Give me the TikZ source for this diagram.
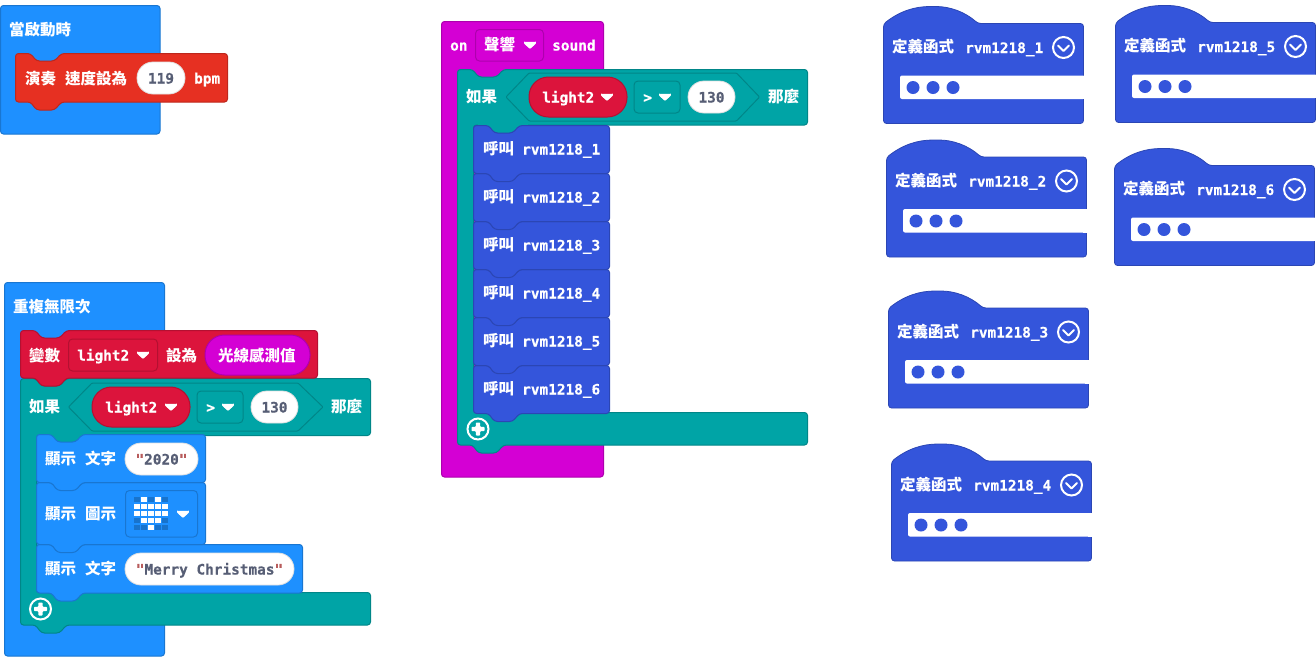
\documentclass[tikz,border=0pt]{standalone}
\usepackage{fontspec}
\usetikzlibrary{shapes.misc}
\newfontfamily\cjkf{Noto Sans CJK TC}
\newfontfamily\monof[FakeBold=0.4]{DejaVu Sans Mono}
\definecolor{cblue}{HTML}{1E90FF}
\definecolor{cred}{HTML}{E63022}
\definecolor{ccrim}{HTML}{DC143C}
\definecolor{cmag}{HTML}{D400D4}
\definecolor{cteal}{HTML}{00A4A6}
\definecolor{cind}{HTML}{3455DB}
\definecolor{cval}{HTML}{575E75}
\definecolor{cquot}{HTML}{B85C5C}
\definecolor{coff}{HTML}{1873CC}
\tikzset{
  cjk/.style={anchor=west,inner sep=0pt,text=white,font=\cjkf\bfseries\fontsize{15.5}{16}\selectfont,text height=11pt,text depth=0pt,yshift=-0.6pt},
  mono/.style={anchor=west,inner sep=0pt,text=white,font=\monof\bfseries\fontsize{14.4}{16}\selectfont,text height=11pt,text depth=0pt},
  pill/.style={shape=rounded rectangle,inner sep=0pt,fill=white,draw=black!12,line width=.8pt,text=cval,
    font=\monof\bfseries\fontsize{14.4}{16}\selectfont,text height=11pt,text depth=0pt},
  outl/.style={fill=#1,draw=#1!82!black,line width=1pt,rounded corners=3pt},
  fieldbox/.style={draw=#1!82!black,line width=1pt,rounded corners=4pt},
  hexa/.style={fill=cteal,draw=cteal!82!black,line width=1pt,rounded corners=1pt},
  whitetri/.style={fill=white,draw=white,line width=.6pt,rounded corners=.8pt},
  plusring/.style={draw=white,line width=2pt,fill=cteal},
}
\newcommand\hatblk[5]{\path[outl=#1] (#2,#3) rectangle (#4,#5);}
\newcommand\stk[5]{\path[outl=#1] (#2,#3) -- ({#2+15},#3) -- ({#2+21},{#3+7.5}) -- ({#2+39},{#3+7.5}) -- ({#2+46},#3) -- (#4,#3) -- (#4,#5) -- ({#2+46},#5) -- ({#2+39},{#5+8}) -- ({#2+21},{#5+8}) -- ({#2+15},#5) -- (#2,#5) -- cycle;}
\newcommand\cblk[6]{\path[outl=cteal] (#1,#2) -- ({#1+15},#2) -- ({#1+21},{#2+7.5}) -- ({#1+39},{#2+7.5}) -- ({#1+46},#2) -- (#3,#2) -- (#3,#4) -- ({#1+16},#4) -- ({#1+16},#5) -- (#3,#5) -- (#3,#6) -- ({#1+46},#6) -- ({#1+39},{#6+8}) -- ({#1+21},{#6+8}) -- ({#1+15},#6) -- (#1,#6) -- cycle;
  \path[fill=cteal] ({#1+20},{#4-1}) rectangle ({#1+70},{#4+9});}
\newcommand\tri[2]{\path[whitetri] ({#1-5.5},{#2-2.8}) -- ({#1+5.5},{#2-2.8}) -- ({#1+5.5},{#2-1.5}) -- (#1,{#2+3.6}) -- ({#1-5.5},{#2-1.5}) -- cycle;}
\newcommand\hexcond[6]{\path[hexa] (#1,#4) -- (#2,{#4-24}) -- (#3,{#4-24}) -- (#5,#4) -- (#3,{#4+24}) -- (#2,{#4+24}) -- cycle;}
\newcommand\plusbtn[2]{\path[plusring] (#1,#2) circle (10.5);
  \path[fill=white,rounded corners=.8pt] ({#1-6.5},{#2-2.2}) -- ({#1-2.2},{#2-2.2}) -- ({#1-2.2},{#2-6.5}) -- ({#1+2.2},{#2-6.5}) -- ({#1+2.2},{#2-2.2}) -- ({#1+6.5},{#2-2.2}) -- ({#1+6.5},{#2+2.2}) -- ({#1+2.2},{#2+2.2}) -- ({#1+2.2},{#2+6.5}) -- ({#1-2.2},{#2+6.5}) -- ({#1-2.2},{#2+2.2}) -- ({#1-6.5},{#2+2.2}) -- cycle;}
\begin{document}
\begin{tikzpicture}[x=1pt,y=-1pt]
\useasboundingbox (0,0) rectangle (1316,657);
% --- start block
\hatblk{cblue}{0.5}{5.5}{160}{134}
\stk{cred}{15.5}{53.5}{227.5}{102}
\node[cjk] (t1) at (9,29) {當啟動時};
\node[cjk] (t2) at (25,78) {演奏\hspace{9pt}速度設為};
\node[pill,minimum width=48pt,minimum height=32pt] (t3) at (161,78) {119};
\node[mono] (t4) at (194,78) {bpm};
% --- forever block
\hatblk{cblue}{4.5}{282.5}{164.5}{656}
\cblk{20.5}{378.5}{370.5}{435.5}{592.5}{625}
\stk{ccrim}{20.5}{330.5}{317.5}{378}
\path[fieldbox=ccrim] (68.5,339) rectangle (157.5,371);
\path[fill=cmag,draw=cmag!82!black,line width=1pt,rounded corners=19.5pt] (205,335) rectangle (310,375);
\node[cjk] (f1) at (13,306) {重複無限次};
\node[cjk] (f2) at (29,355) {變數};
\node[mono] (f3) at (77,355) {light2};
\tri{143}{355}
\node[cjk] (f4) at (166,355) {設為};
\node[cjk] (f5) at (218,355) {光線感測值};
\hexcond{68.5}{92}{298}{407}{323}{}
\path[fill=ccrim,draw=ccrim!82!black,line width=1pt,rounded corners=19.5pt] (92,387) rectangle (190,427);
\path[fieldbox=cteal] (197,391) rectangle (243,423);
\node[cjk] (f6) at (29,406) {如果};
\node[mono] (f7) at (105,407) {light2};
\tri{171}{407}
\node[mono] (f8) at (206,407) {>};
\tri{228}{407}
\node[pill,minimum width=47pt,minimum height=32pt] (f9) at (274.5,407) {130};
\node[cjk] (f10) at (331,406) {那麼};
% show blocks (last first so tabs lie on top)
\stk{cblue}{36.5}{544.5}{302.5}{593}
\stk{cblue}{36.5}{482.5}{205.5}{544.5}
\stk{cblue}{36.5}{434.5}{205.5}{482.5}
\node[cjk] (f11) at (45,458) {顯示\hspace{9pt}文字};
\node[pill,minimum width=73pt,minimum height=32pt] (f12) at (161.5,459) {{\color{cquot}"}2020{\color{cquot}"}};
\node[cjk] (f13) at (45,513) {顯示\hspace{9pt}圖示};
\path[fieldbox=cblue] (125.5,490.5) rectangle (197.5,537);
\foreach \cx in {0,...,4} \foreach \cy in {0,...,4}
  \path[fill=coff] ({134+7*\cx},{496.5+7*\cy}) rectangle +(5.8,5.8);
\foreach \cx/\cy in {1/0,3/0,0/1,1/1,2/1,3/1,4/1,0/2,1/2,2/2,3/2,4/2,1/3,2/3,3/3,2/4}
  \path[fill=white] ({134+7*\cx},{496.5+7*\cy}) rectangle +(5.8,5.8);
\tri{183}{514}
\node[cjk] (f14) at (45,568) {顯示\hspace{9pt}文字};
\node[pill,minimum width=169pt,minimum height=32pt] (f15) at (209.5,569) {{\color{cquot}"}Merry Christmas{\color{cquot}"}};
\plusbtn{40.5}{609}
% --- on sound block
\hatblk{cmag}{441.5}{21.5}{603.5}{477}
\path[fieldbox=cmag] (475.5,29.5) rectangle (543.5,61);
\node[mono] (s1) at (450,45) {on};
\node[cjk] (s2) at (484,44) {聲響};
\tri{530}{45}
\node[mono] (s3) at (552,45) {sound};
\cblk{457.5}{69.5}{807.5}{125}{412.5}{445}
\hexcond{506}{529}{736.5}{97}{759.5}{}
\path[fill=ccrim,draw=ccrim!82!black,line width=1pt,rounded corners=19.5pt] (529,77) rectangle (627,117);
\path[fieldbox=cteal] (634,81) rectangle (680,113);
\node[cjk] (s4) at (466,96) {如果};
\node[mono] (s5) at (542,97) {light2};
\tri{607}{97}
\node[mono] (s6) at (643,97) {>};
\tri{665}{97}
\node[pill,minimum width=47pt,minimum height=32pt] (s7) at (711.5,97) {130};
\node[cjk] (s8) at (768,96) {那麼};
\foreach \i/\yy in {6/365,5/317,4/269,3/221,2/173,1/125}{
  \stk{cind}{473.5}{\yy.5}{609.5}{\yy.5+48}
  \node[cjk] (ca\i) at (483,\yy+23.5) {呼叫};
  \node[mono] (cb\i) at (522,\yy+24) {rvm1218\_\i};
}
\plusbtn{478}{429}
% --- function blocks
\foreach \i/\dx/\dy in {1/0/0,2/3/133.5,3/5/284.5,4/8/437.5,5/232/-1,6/231/142}{
  \begin{scope}[shift={(\dx,\dy)}]
    \path[fill=cind,draw=cind!82!black,line width=.8pt,rounded corners=3pt]
      (883.5,24) .. controls (900,11) and (915,6.5) .. (933,6.5) .. controls (950,6.5) and (965,12) .. (978,23.5)
      -- (1083.5,23.5) -- (1083.5,123.5) -- (883.5,123.5) -- cycle;
    \path[fill=white,rounded corners=2pt] (1085,75.5) -- (900,75.5) -- (900,99) -- (1085,99) -- cycle;
    \path[fill=white] (1080,75.5) rectangle (1085,99);
    \foreach \dotx in {913,933,953} \path[fill=cind] (\dotx,87.5) circle (6.5);
    \node[cjk] (da\i) at (892,46.5) {定義函式};
    \node[mono] (db\i) at (965,47.5) {rvm1218\_\i};
    \path[draw=white,line width=2pt] (1063.5,47.5) circle (10.5);
    \path[draw=white,line width=2pt,line cap=round,line join=round] (1058,45.5) -- (1063.5,51) -- (1069,45.5);
  \end{scope}
}
\end{tikzpicture}
\end{document}
